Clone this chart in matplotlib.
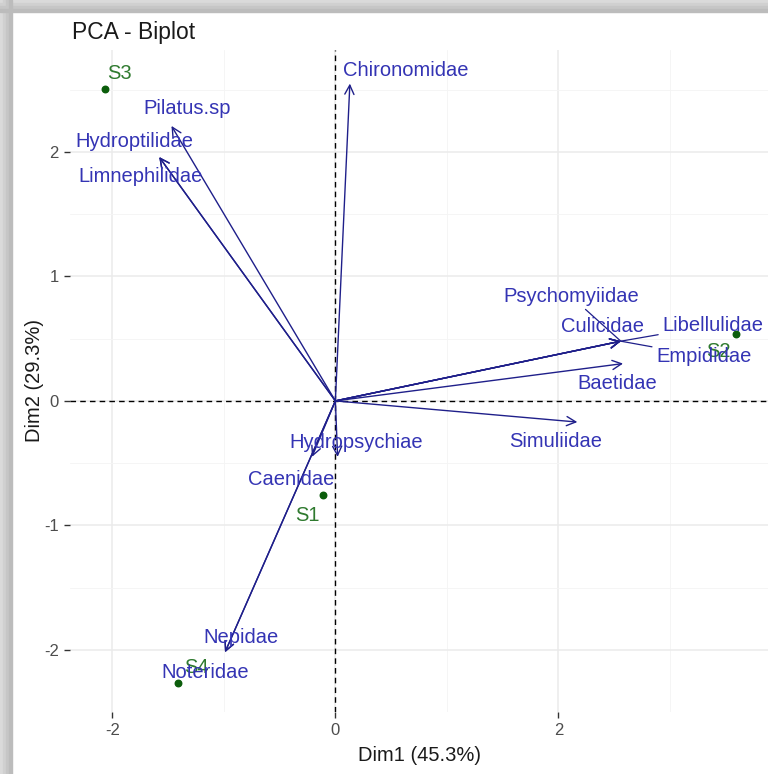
import numpy as np
import matplotlib as mpl
import matplotlib.pyplot as plt
from matplotlib.patches import Rectangle

mpl.rcParams.update({
    "font.family": ["Liberation Sans", "DejaVu Sans"],
    "font.size": 11,
    "axes.unicode_minus": False,
})

# ── Data ──
var_names = ["Chironomidae", "Pilatus.sp", "Hydroptilidae", "Limnephilidae",
             "Psychomyiidae", "Culicidae", "Libellulidae", "Empididae",
             "Baetidae", "Simuliidae", "Hydropsychiae", "Caenidae",
             "Nepidae", "Noteridae"]
var_dim1 = [0.13, -1.47, -1.58, -1.58, 2.56, 2.56, 2.56, 2.56,
            2.58, 2.17, 0.02, -0.21, -0.99, -0.99]
var_dim2 = [2.55, 2.21, 1.96, 1.96, 0.48, 0.48, 0.48, 0.48,
            0.30, -0.17, -0.45, -0.45, -2.02, -2.02]

ind_names = ["S1", "S2", "S3", "S4"]
ind_dim1 = [-0.11, 3.59, -2.07, -1.41]
ind_dim2 = [-0.76, 0.54, 2.51, -2.27]

x_label = "Dim1 (45.3%)"
y_label = "Dim2 (29.3%)"

# label offsets (pixels) mimicking the repel layout; True -> draw segment
var_offsets = {
    "Chironomidae": (56, 13, False), "Pilatus.sp": (16, 17, False),
    "Hydroptilidae": (-25, 16, False), "Limnephilidae": (-19, -19, False),
    "Psychomyiidae": (-50, 45, True), "Culicidae": (-18, 15, False),
    "Libellulidae": (92, 16, True), "Empididae": (83, -15, True),
    "Baetidae": (-6, -20, False), "Simuliidae": (-22, -19, False),
    "Hydropsychiae": (19, 14, False), "Caenidae": (-21, -23, False),
    "Nepidae": (16, 15, False), "Noteridae": (-20, -20, False),
}
ind_offsets = {"S1": (-16, -20), "S2": (-17, -18), "S3": (15, 15), "S4": (18, 16)}

VAR_LINE = "#1f1f8a"
VAR_TEXT = "#3434b4"
IND_COL = "#0b5d0b"
IND_TEXT = "#2f7a2f"

W, H = 768, 774
fig = plt.figure(figsize=(W / 100, H / 100), dpi=100)
ax = fig.add_axes([70 / W, 62 / H, 1 - 70 / W, 662 / H])

# screenshot frame
for i, c in enumerate(["#dadada", "#d0d0d0", "#c6c6c6", "#bcbcbc"]):
    fig.patches.append(Rectangle((i * 3 / W, 0), 3.3 / W, 1, transform=fig.transFigure,
                                 color=c, zorder=0))
    fig.patches.append(Rectangle((0, 1 - (i + 1) * 3 / H), 1, 3.3 / H, transform=fig.transFigure,
                                 color=c, zorder=0))

ax.set_xlim(-2.38, 3.88)
ax.set_ylim(-2.5, 2.82)
for s in ax.spines.values():
    s.set_visible(False)
ax.set_xticks([-2, 0, 2])
ax.set_yticks([-2, -1, 0, 1, 2])
ax.set_xticks([-1, 1, 3], minor=True)
ax.set_yticks([-2.5, -1.5, -0.5, 0.5, 1.5, 2.5], minor=True)
ax.grid(True, which="major", color="#ebebeb", linewidth=1.1)
ax.grid(True, which="minor", color="#f4f4f4", linewidth=0.6)
ax.tick_params(which="major", length=4, width=1, color="#333333",
               labelcolor="#4d4d4d", labelsize=12, pad=4)
ax.tick_params(which="minor", length=0)
ax.set_axisbelow(True)

ax.axhline(0, color="black", linestyle=(0, (4, 3)), linewidth=1, zorder=1)
ax.axvline(0, color="black", linestyle=(0, (4, 3)), linewidth=1, zorder=1)

# individuals
ax.scatter(ind_dim1, ind_dim2, s=22, color=IND_COL, zorder=3)
for name, x, y in zip(ind_names, ind_dim1, ind_dim2):
    dx, dy = ind_offsets[name]
    ax.annotate(name, (x, y), xytext=(dx, dy), textcoords="offset pixels",
                ha="center", va="center", fontsize=14.5, color=IND_TEXT, zorder=4)

# variable arrows
for x, y in zip(var_dim1, var_dim2):
    ax.annotate("", xy=(x, y), xytext=(0, 0),
                arrowprops=dict(arrowstyle="->,head_length=0.6,head_width=0.3",
                                color=VAR_LINE, lw=1, shrinkA=0, shrinkB=0), zorder=3)

for name, x, y in zip(var_names, var_dim1, var_dim2):
    dx, dy, seg = var_offsets[name]
    props = None
    if seg:
        props = dict(arrowstyle="-", color=VAR_LINE, lw=0.9, shrinkA=1, shrinkB=0)
    ax.annotate(name, (x, y), xytext=(dx, dy), textcoords="offset pixels",
                ha="center", va="center", fontsize=14.5, color=VAR_TEXT,
                arrowprops=props, zorder=4)

ax.set_xlabel(x_label, fontsize=14.5, color="#1a1a1a", labelpad=6)
ax.set_ylabel(y_label, fontsize=14.5, color="#1a1a1a", labelpad=0)
fig.text(72 / W, 1 - 33 / H, "PCA - Biplot", fontsize=16.5, va="center", ha="left",
         color="#1a1a1a")

fig.savefig("out.png", dpi=100)
